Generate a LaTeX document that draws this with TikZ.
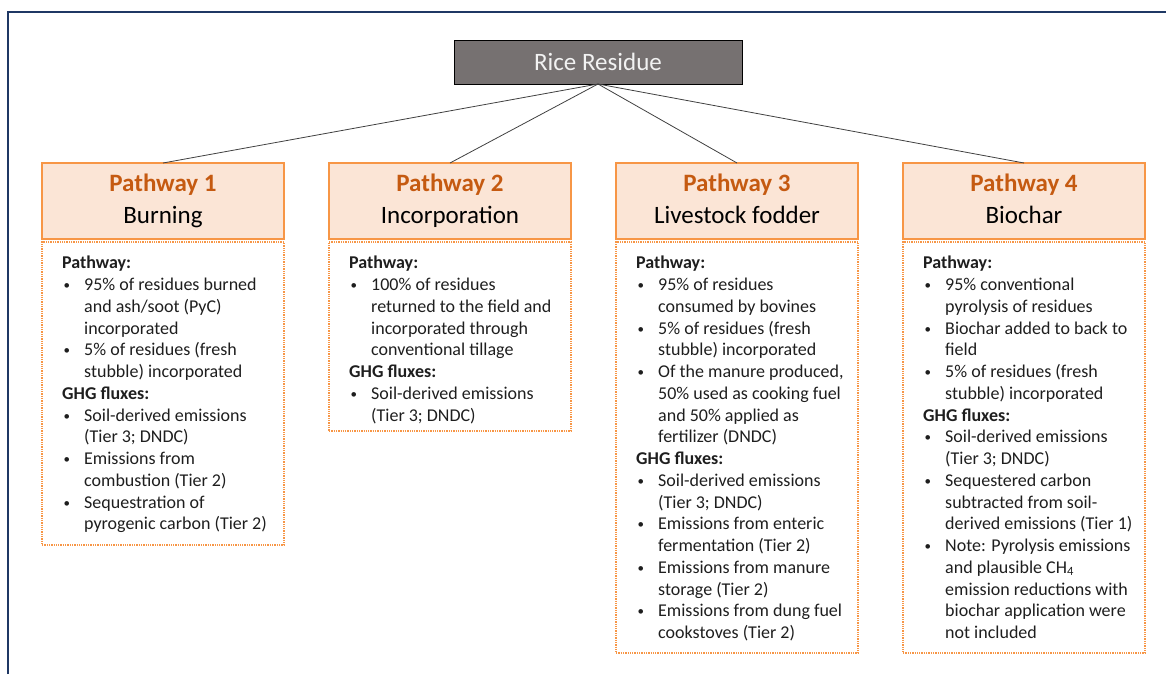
\documentclass[tikz,border=0pt]{standalone}
\usepackage{fontspec}
\setmainfont{Carlito}
\usetikzlibrary{positioning}

\definecolor{framenavy}{HTML}{1F3864}
\definecolor{ricegray}{HTML}{767171}
\definecolor{ricetext}{HTML}{F2F2F2}
\definecolor{headfill}{HTML}{FBE5D6}
\definecolor{edgeorange}{HTML}{F79646}
\definecolor{pathorange}{HTML}{C55A11}
\definecolor{bodytext}{HTML}{1E1E1E}
\definecolor{linkgray}{HTML}{404040}

\newcommand{\bul}{\makebox[22pt][l]{\hspace{1.5pt}\raisebox{1pt}{\fontsize{13}{13}\selectfont\textbullet}}}
\newcommand{\cont}{\hspace*{22pt}}
\newcommand{\pw}[1]{\strut{\bfseries\color{pathorange}Pathway #1}}

\begin{document}
\begin{tikzpicture}[x=1pt, y=-1pt, node distance=45pt,
  root/.style = {draw=black, fill=ricegray, text=ricetext, minimum width=288pt, minimum height=44pt, outer sep=0pt, font=\fontsize{25}{30}\selectfont},
  head/.style = {draw=edgeorange, line width=1.2pt, fill=headfill, minimum width=242pt, minimum height=76pt, inner sep=0pt, outer sep=0pt, align=center, font=\fontsize{25}{32}\selectfont},
  detail/.style = {draw=edgeorange, line width=1.3pt, dash pattern=on 1.3pt off 1pt, minimum width=242pt, outer sep=0pt},
  body/.style = {align=left, inner sep=0pt, text=bodytext, font=\fontsize{18}{21.75}\selectfont},
  link/.style = {draw=linkgray, line width=0.8pt}]
  \useasboundingbox (0,0) rectangle (1166,674);
  \draw[framenavy, line width=1.5pt] (8,674) -- (8,12) -- (1166,12);

  \node[root] (rice) at (598,62) {Rice Residue};

  \node[head, anchor=north west] (h1) at (42,163) {\pw{1}\\Burning\strut};
  \node[head] (h2) [right=of h1] {\pw{2}\\Incorporation\strut};
  \node[head] (h3) [right=of h2] {\pw{3}\\Livestock fodder\strut};
  \node[head] (h4) [right=of h3] {\pw{4}\\Biochar\strut};

  \draw[link] (rice.south) -- (h1.north);
  \draw[link] (rice.south) -- (h2.north);
  \draw[link] (rice.south) -- (h3.north);
  \draw[link] (rice.south) -- (h4.north);

  \node[detail, minimum height=303pt, below=3pt of h1] (d1) {};
  \node[detail, minimum height=189pt, below=3pt of h2] (d2) {};
  \node[detail, minimum height=411pt, below=3pt of h3] (d3) {};
  \node[detail, minimum height=411pt, below=3pt of h4] (d4) {};

  \node[body, below right=14pt and 20pt of d1.north west] (t1) {%
    \textbf{Pathway:}\\
    \bul 95\% of residues burned\\
    \cont and ash/soot (PyC)\\
    \cont incorporated\\
    \bul 5\% of residues (fresh\\
    \cont stubble) incorporated\\
    \textbf{GHG fluxes:}\\
    \bul Soil-derived emissions\\
    \cont (Tier 3; DNDC)\\
    \bul Emissions from\\
    \cont combustion (Tier 2)\\
    \bul Sequestration of\\
    \cont pyrogenic carbon (Tier 2)};

  \node[body, below right=14pt and 20pt of d2.north west] (t2) {%
    \textbf{Pathway:}\\
    \bul 100\% of residues\\
    \cont returned to the field and\\
    \cont incorporated through\\
    \cont conventional tillage\\
    \textbf{GHG fluxes:}\\
    \bul Soil-derived emissions\\
    \cont (Tier 3; DNDC)};

  \node[body, below right=14pt and 20pt of d3.north west] (t3) {%
    \textbf{Pathway:}\\
    \bul 95\% of residues\\
    \cont consumed by bovines\\
    \bul 5\% of residues (fresh\\
    \cont stubble) incorporated\\
    \bul Of the manure produced,\\
    \cont 50\% used as cooking fuel\\
    \cont and 50\% applied as\\
    \cont fertilizer (DNDC)\\
    \textbf{GHG fluxes:}\\
    \bul Soil-derived emissions\\
    \cont (Tier 3; DNDC)\\
    \bul Emissions from enteric\\
    \cont fermentation (Tier 2)\\
    \bul Emissions from manure\\
    \cont storage (Tier 2)\\
    \bul Emissions from dung fuel\\
    \cont cookstoves (Tier 2)};

  \node[body, below right=14pt and 20pt of d4.north west] (t4) {%
    \textbf{Pathway:}\\
    \bul 95\% conventional\\
    \cont pyrolysis of residues\\
    \bul Biochar added to back to\\
    \cont field\\
    \bul 5\% of residues (fresh\\
    \cont stubble) incorporated\\
    \textbf{GHG fluxes:}\\
    \bul Soil-derived emissions\\
    \cont (Tier 3; DNDC)\\
    \bul Sequestered carbon\\
    \cont subtracted from soil-\\
    \cont derived emissions (Tier 1)\\
    \bul Note: Pyrolysis emissions\\
    \cont and plausible CH\textsubscript{4}\\
    \cont emission reductions with\\
    \cont biochar application were\\
    \cont not included};
\end{tikzpicture}
\end{document}
